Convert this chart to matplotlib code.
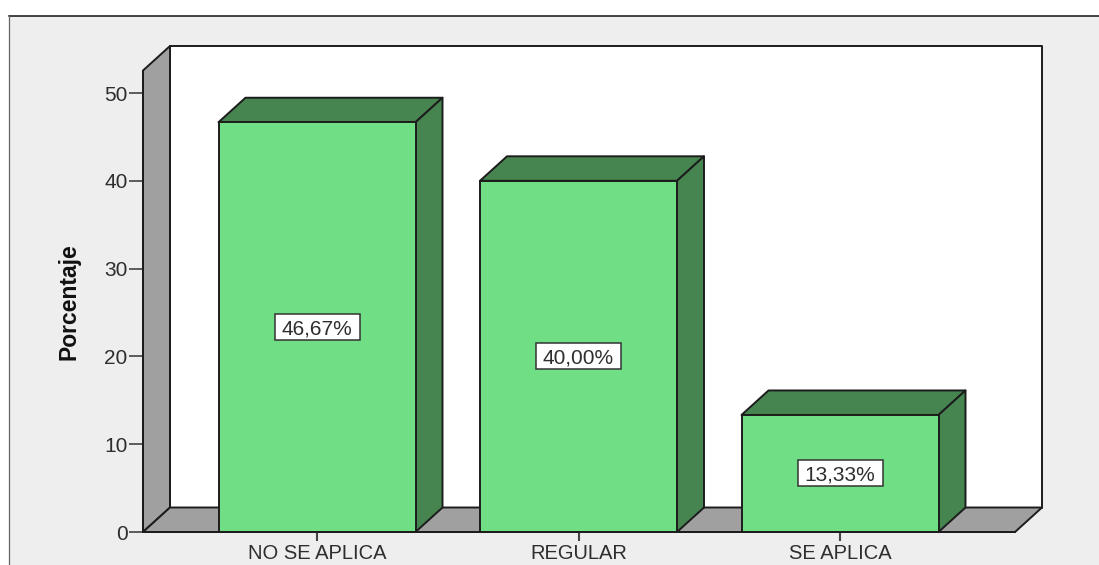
import matplotlib
matplotlib.use("Agg")
import matplotlib.pyplot as plt
from matplotlib.lines import Line2D
from matplotlib.patches import Polygon, Rectangle

categories = ["NO SE APLICA", "REGULAR", "SE APLICA"]
percentages = [46.67, 40.00, 13.33]
value_labels = ["46,67%", "40,00%", "13,33%"]
y_ticks = [0, 10, 20, 30, 40, 50]

W, H = 1099, 565
PX_X = 261.5  # pixels per category step
PX_Y = 8.78  # pixels per percent
DX = 27 / PX_X  # 3d depth in data units
DY = 24.5 / PX_Y
BAR_WIDTH = 197 / PX_X

EDGE = "#1c1c1c"
TEXT = "#2e2e2e"
LW = 1.4

plt.rcParams["font.family"] = ["Liberation Sans", "DejaVu Sans"]

fig = plt.figure(figsize=(W / 100, H / 100), dpi=100, facecolor="white")

# grey chart panel, runs off the right and bottom of the image
fig.add_artist(Rectangle((9 / W, 0), 1 - 9 / W, 1 - 16 / H, transform=fig.transFigure,
                         facecolor="#eeeeee", edgecolor="none", zorder=-2))
fig.add_artist(Line2D([9 / W, 1], [1 - 16 / H] * 2, transform=fig.transFigure, color="#111111", lw=1.1, zorder=-1))
fig.add_artist(Line2D([9 / W, 9 / W], [0, 1 - 16 / H], transform=fig.transFigure, color="#666666", lw=0.9, zorder=-1))

ax = fig.add_axes([143 / W, (H - 532) / H, 899 / W, 486 / H])
ax.set_xlim((143 - 317) / PX_X, (1042 - 317) / PX_X)
ax.set_ylim(0, 486 / PX_Y)
ax.patch.set_visible(False)

x0, x1 = ax.get_xlim()
top = ax.get_ylim()[1]
front_top = top - DY
front_right = x1 - DX


def box(points, color, z):
    ax.add_patch(Polygon(points, closed=True, facecolor=color, edgecolor=EDGE,
                         linewidth=LW, joinstyle="round", clip_on=False, zorder=z))


# back wall, side wall and floor
box([(x0 + DX, DY), (x1, DY), (x1, top), (x0 + DX, top)], "white", 1)
box([(x0, 0), (x0 + DX, DY), (x0 + DX, top), (x0, front_top)], "#a0a0a0", 2)
box([(x0, 0), (x0 + DX, DY), (x1, DY), (front_right, 0)], "#a0a0a0", 2)

# bars with their 3d top and side faces
for i, value in enumerate(percentages):
    left = i - BAR_WIDTH / 2
    right = i + BAR_WIDTH / 2
    box([(left, value), (left + DX, value + DY), (right + DX, value + DY), (right, value)], "#468550", 3)
    box([(right, 0), (right + DX, DY), (right + DX, value + DY), (right, value)], "#468550", 3)
ax.bar(range(len(categories)), percentages, width=BAR_WIDTH, color="#70de85",
       edgecolor=EDGE, linewidth=LW, zorder=4)

# value labels in white boxes
for i, (value, label) in enumerate(zip(percentages, value_labels)):
    bw = 85 / PX_X
    bh = 26 / PX_Y
    ax.add_patch(Rectangle((i - bw / 2, value / 2 - bh / 2 + 0.05), bw, bh, facecolor="white",
                           edgecolor="#333333", linewidth=1.1, zorder=5))
    ax.text(i, value / 2 + 0.05, label, ha="center", va="center_baseline", fontsize=15, color=TEXT, zorder=6)

for name in ["top", "right"]:
    ax.spines[name].set_visible(False)
ax.spines["left"].set_bounds(0, front_top)
ax.spines["bottom"].set_bounds(x0, front_right)
for name in ["left", "bottom"]:
    ax.spines[name].set_color(EDGE)
    ax.spines[name].set_linewidth(LW)
    ax.spines[name].set_zorder(4)

ax.set_yticks(y_ticks)
ax.set_xticks(range(len(categories)))
ax.set_xticklabels(categories)
ax.tick_params(axis="y", length=10, width=1.1, color="#333333", labelsize=15, labelcolor=TEXT, pad=1)
ax.tick_params(axis="x", length=6.5, width=1.5, color="#444444", labelsize=14.5, labelcolor=TEXT, pad=2)

ax.set_ylabel("Porcentaje", fontsize=16.5, fontweight="bold", color="#111111",
              family=["Liberation Sans Narrow", "Liberation Sans"])
ax.yaxis.set_label_coords((81 - 143) / 899, (532 - 302) / 486)

fig.savefig("out.png", dpi=100)
